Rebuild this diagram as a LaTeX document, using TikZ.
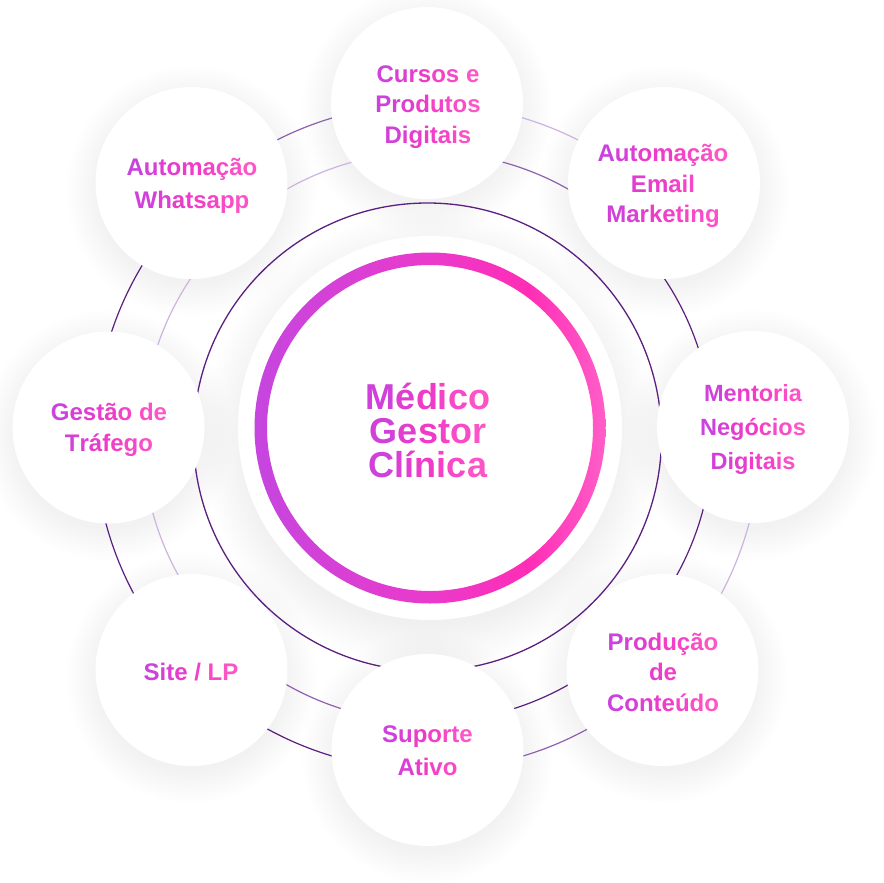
\documentclass[tikz,border=0pt]{standalone}
\usepackage{fontspec}
\setmainfont{Liberation Sans}
\definecolor{gpurple}{HTML}{C443E0}
\definecolor{gmid}{HTML}{F03BC8}
\definecolor{gpink}{HTML}{FF5AC6}
\definecolor{ringleft}{HTML}{C546DF}
\definecolor{ringmid}{HTML}{EA3ACB}
\definecolor{ringhot}{HTML}{FF2DB6}
\definecolor{ringright}{HTML}{FF5EC8}
\definecolor{arcdark}{HTML}{5B1F7F}
\definecolor{arcmed}{HTML}{8F60AD}
\definecolor{arclight}{HTML}{CFB3DF}
\pgfdeclarehorizontalshading{ringshade}{100bp}{color(0bp)=(ringleft); color(25bp)=(ringleft); color(50bp)=(ringmid); color(64bp)=(ringhot); color(75bp)=(ringright); color(100bp)=(ringright)}
\makeatletter
\newdimen\g@x \newdimen\g@cw \newdimen\g@bw \newcount\g@pct
\def\g@end{\g@end@}
\def\gradline#1{%
  \setbox0\hbox{#1}%
  \g@x=\dimexpr(\g@bw-\wd0)/2\relax
  \g@loop#1\g@end}
\def\g@loop#1{%
  \ifx#1\g@end\else
    \setbox0\hbox{#1}\g@cw=\wd0
    \g@pct=\numexpr(100*(\g@x+\g@cw/2))/\g@bw\relax
    \ifnum\g@pct<0 \g@pct=0 \fi
    \ifnum\g@pct>100 \g@pct=100 \fi
    \ifnum\g@pct<50
      \edef\g@col{gmid!\the\numexpr2*\g@pct\relax!gpurple}%
    \else
      \edef\g@col{gpink!\the\numexpr2*\g@pct-100\relax!gmid}%
    \fi
    {\color{\g@col}#1}%
    \advance\g@x by \g@cw
    \expandafter\g@loop
  \fi}
\def\g@sepline#1{\g@sep\gradline{#1}\gdef\g@sep{\\}}
\def\gradlabel#1{%
  \global\g@bw=1pt
  \@for\g@l:=#1\do{\setbox0\hbox{\g@l}\ifdim\wd0>\g@bw \global\g@bw=\wd0 \fi}%
  \global\let\g@sep\relax
  \@for\g@l:=#1\do{\expandafter\g@sepline\expandafter{\g@l}}%
}
\makeatother
\begin{document}
\begin{tikzpicture}[x=1pt,y=-1pt,
  sat/.style={circle, fill=white, minimum size=192pt, inner sep=0pt},
  lbl/.style={align=center, inner sep=0pt, font=\bfseries\fontsize{24}{30.5}\selectfont},
  biglbl/.style={align=center, inner sep=0pt, font=\bfseries\fontsize{36}{34}\selectfont},
  arcline/.style={line width=1.2pt},
  shadowlayer/.style={fill=black, opacity=0.0038},
]
\useasboundingbox (0,0) rectangle (883,883);
\fill[white] (0,0) rectangle (883,883);

% soft shadows
\foreach \px/\py in {427/103, 664/183, 753/427, 662.5/670, 427.5/750, 191.5/670, 108.5/427.5, 191.5/183}{
  \foreach \k in {0,...,12}{
    \fill[shadowlayer] (\px,\py+8) circle (94+2.6*\k);
  }
}
\foreach \k in {0,...,14}{
  \fill[black, opacity=0.0036] (430,440) circle (186+3*\k);
}
\fill[white] (430,428) circle (192);

% orbit lines
\coordinate (A) at (427.5,437);
\draw[arcdark, line width=1.3pt] (A) circle (234);
% Whatsapp -> Cursos
\draw[arcline, arcmed]   (A) ++(-132.9:333) arc[start angle=-132.9, end angle=-90, radius=333];
\draw[arcline, arclight] (A) ++(-132.9:285) arc[start angle=-132.9, end angle=-90, radius=285];
% Cursos -> Email
\draw[arcline, arclight] (A) ++(-90:333) arc[start angle=-90, end angle=-47, radius=333];
\draw[arcline, arcmed]   (A) ++(-90:285) arc[start angle=-90, end angle=-47, radius=285];
% Email -> Mentoria
\draw[arcline, arcdark]  (A) ++(-47:285) arc[start angle=-47, end angle=-1.8, radius=285];
% Mentoria -> Producao
\draw[arcline, arcdark]  (A) ++(-1.8:285) arc[start angle=-1.8, end angle=44.8, radius=285];
\draw[arcline, arclight] (A) ++(-1.8:333) arc[start angle=-1.8, end angle=44.8, radius=333];
% Producao -> Suporte
\draw[arcline, arcdark]  (A) ++(44.8:285) arc[start angle=44.8, end angle=90, radius=285];
\draw[arcline, arcmed]   (A) ++(44.8:333) arc[start angle=44.8, end angle=90, radius=333];
% Suporte -> Site
\draw[arcline, arcmed]   (A) ++(90:285) arc[start angle=90, end angle=135.4, radius=285];
\draw[arcline, arcdark]  (A) ++(90:333) arc[start angle=90, end angle=135.4, radius=333];
% Site -> Gestao
\draw[arcline, arcdark]  (A) ++(135.4:333) arc[start angle=135.4, end angle=181.7, radius=333];
\draw[arcline, arclight] (A) ++(135.4:285) arc[start angle=135.4, end angle=181.7, radius=285];
% Gestao -> Whatsapp
\draw[arcline, arcdark]  (A) ++(181.7:333) arc[start angle=181.7, end angle=227.1, radius=333];
\draw[arcline, arclight] (A) ++(181.7:285) arc[start angle=181.7, end angle=227.1, radius=285];

% satellite circles
\node[sat] (cursos)   at (427,103) {};
\node[sat] (email)    at (664,183) {};
\node[sat] (mentoria) at (753,427) {};
\node[sat] (producao) at (662.5,670) {};
\node[sat] (suporte)  at (427.5,750) {};
\node[sat] (site)     at (191.5,670) {};
\node[sat] (gestao)   at (108.5,427.5) {};
\node[sat] (whats)    at (191.5,183) {};

% labels
\node[lbl] (tcursos)   at (428,107) {\gradlabel{Cursos~e,Produtos,Digitais}};
\node[lbl] (temail)    at (663,186) {\gradlabel{Automação,Email,Marketing}};
\node[lbl, font=\bfseries\fontsize{23.5}{34}\selectfont] (tmentoria) at (753,429) {\gradlabel{Mentoria,Negócios,Digitais}};
\node[lbl] (tproducao) at (663,672) {\gradlabel{Produção,de,Conteúdo}};
\node[lbl, font=\bfseries\fontsize{24}{33}\selectfont] (tsuporte) at (427.5,751) {\gradlabel{Suporte,Ativo}};
\node[lbl] (tsite)     at (191,672) {\gradlabel{Site~/~LP}};
\node[lbl] (tgestao)   at (109,430) {\gradlabel{Gestão~de,Tráfego}};
\node[lbl, font=\bfseries\fontsize{24}{33}\selectfont] (twhats) at (192,186) {\gradlabel{Automação,Whatsapp}};

% central ring
\shade[shading=ringshade, even odd rule] (430,428) circle (175.5) circle (163);
\node[biglbl] (main) at (428,430) {\gradlabel{Médico,Gestor,Clínica}};
\end{tikzpicture}
\end{document}
